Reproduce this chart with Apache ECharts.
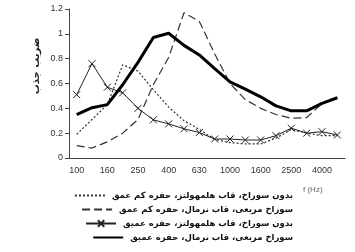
<!DOCTYPE html>
<html><head><meta charset="utf-8">
<script src="https://cdn.jsdelivr.net/npm/echarts@6/dist/echarts.min.js"></script>
<style>html,body{margin:0;padding:0;background:#fff}#c{width:355px;height:252px}</style>
</head><body><div id="c"></div>
<script>
var categories = ['100','125','160','200','250','315','400','500','630','800','1000','1250','1600','2000','2500','3150','4000','5000'];
var seriesNames = [
  'بدون سوراخ، قاب هلمهولتز، حفره کم عمق',
  'سوراخ مربعی، قاب نرمال، حفره کم عمق',
  'بدون سوراخ، قاب هلمهولتز، حفره عمیق',
  'سوراخ مربعی، قاب نرمال، حفره عمیق'
];
var dottedShallow = [0.19,0.31,0.43,0.75,0.70,0.55,0.41,0.30,0.23,0.15,0.124,0.113,0.113,0.16,0.23,0.20,0.18,0.18];
var dashedShallow = [0.10,0.08,0.13,0.20,0.31,0.59,0.81,1.17,1.10,0.84,0.60,0.47,0.40,0.35,0.32,0.325,0.44,0.485];
var crossDeep = [0.51,0.76,0.57,0.525,0.40,0.307,0.275,0.235,0.205,0.153,0.153,0.145,0.145,0.18,0.24,0.20,0.212,0.185];
var thickDeep = [0.35,0.405,0.43,0.59,0.77,0.97,1.005,0.907,0.83,0.72,0.613,0.555,0.493,0.42,0.38,0.38,0.44,0.485];
var yTicks = {min:0, max:1.2, interval:0.2};
var yName = 'ضریب جذب';
var xUnit = 'f (Hz)';

var fa = 'DejaVu Sans';
var chart = echarts.init(document.getElementById('c'), null, {renderer:'canvas'});
function legendFor(name, top, showSym){
  return {data:[name], top:top, right:62, orient:'horizontal', itemWidth:30, itemHeight:8, itemGap:0, padding:0,
    itemStyle: showSym ? {} : {opacity:0},
    textStyle:{fontFamily:fa, fontSize:8.5, fontWeight:'bold', color:'#111', padding:[0,0,0,2]}, selectedMode:false};
}
chart.setOption({
  animation:false,
  grid:{left:69, right:10, top:9, bottom:94},
  legend:[legendFor(seriesNames[0],191,false), legendFor(seriesNames[1],205,false), legendFor(seriesNames[2],219,true), legendFor(seriesNames[3],233,false)],
  graphic:[
    {type:'text', left:303, top:186, style:{text:xUnit, fontFamily:'Liberation Sans', fontSize:8, fill:'#666'}},
    {type:'text', x:36, y:66, rotation:Math.PI/2, style:{text:yName, fontFamily:fa, fontSize:10, fontWeight:'bold', fill:'#222', align:'center', verticalAlign:'middle'}}
  ],
  xAxis:{type:'category', data:categories, boundaryGap:true,
    axisLine:{lineStyle:{color:'#444', width:1}},
    axisTick:{interval:0, length:4, lineStyle:{color:'#444'}},
    axisLabel:{interval:1, fontFamily:'Liberation Sans', fontSize:9, color:'#333', margin:8}},
  yAxis:{type:'value', min:yTicks.min, max:yTicks.max, interval:yTicks.interval,
    axisLine:{show:true, lineStyle:{color:'#444', width:1}},
    axisTick:{show:true, length:4, lineStyle:{color:'#444'}},
    splitLine:{show:false},
    axisLabel:{fontFamily:'Liberation Sans', fontSize:9, color:'#333', margin:6}},
  series:[
    {name:seriesNames[0], type:'line', data:dottedShallow, symbol:'none', lineStyle:{color:'#333', width:1.2, type:[2,2]}, itemStyle:{color:'#333'}},
    {name:seriesNames[1], type:'line', data:dashedShallow, symbol:'none', lineStyle:{color:'#333', width:1.2, type:[8,4]}, itemStyle:{color:'#333'}},
    {name:seriesNames[2], type:'line', data:crossDeep, symbol:'path://M0,0L10,10M10,0L0,10', symbolSize:7,
      lineStyle:{color:'#222', width:1}, itemStyle:{color:'#222', borderColor:'#222', borderWidth:1}},
    {name:seriesNames[3], type:'line', data:thickDeep, symbol:'none', lineStyle:{color:'#000', width:3}, itemStyle:{color:'#000'}}
  ]
});
</script></body></html>
